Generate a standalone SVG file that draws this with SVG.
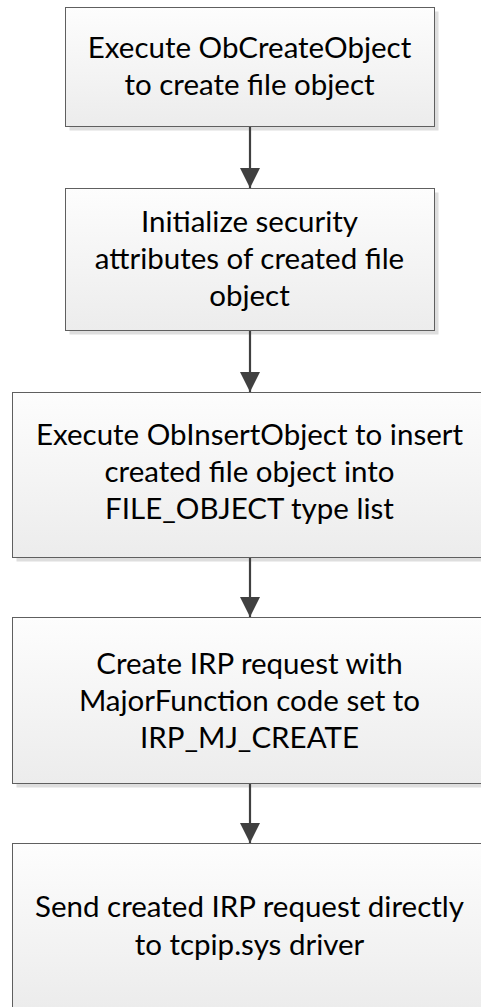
<svg xmlns="http://www.w3.org/2000/svg" width="481" height="1007" viewBox="0 0 481 1007">
  <defs>
    <linearGradient id="boxFill" x1="0" y1="0" x2="0" y2="1">
      <stop offset="0" stop-color="#fdfdfd"/>
      <stop offset="1" stop-color="#ececec"/>
    </linearGradient>
    <marker id="arrow" viewBox="0 0 20 20" refX="20" refY="10" markerWidth="20" markerHeight="20" markerUnits="userSpaceOnUse" orient="auto">
      <path d="M0,0 L20,10 L0,20 Z" fill="#404040"/>
    </marker>
  </defs>
  <style>
    .box { fill: url(#boxFill); stroke: #5f5f5f; stroke-width: 1; }
    .shadow { fill: #dedede; }
    .label { font-family: Lato, "Open Sans", sans-serif; font-size: 29.5px; fill: #000; text-anchor: middle; }
    .conn { stroke: #404040; stroke-width: 2.2; fill: none; marker-end: url(#arrow); }
  </style>
  <rect width="481" height="1007" fill="#ffffff"/>

  <g id="node1">
    <rect class="shadow" x="69.5" y="11.5" width="369" height="119"/>
    <rect class="box" x="65.5" y="7.5" width="369" height="119"/>
    <text class="label" x="249.5" y="58">Execute ObCreateObject</text>
    <text class="label" x="249.5" y="95">to create file object</text>
  </g>

  <g id="node2">
    <rect class="shadow" x="69.5" y="192.5" width="369" height="142"/>
    <rect class="box" x="65.5" y="188.5" width="369" height="142"/>
    <text class="label" x="249.5" y="232">Initialize security</text>
    <text class="label" x="249.5" y="269">attributes of created file</text>
    <text class="label" x="249.5" y="306">object</text>
  </g>

  <g id="node3">
    <rect class="shadow" x="16.5" y="396.5" width="475" height="165"/>
    <rect class="box" x="12.5" y="392.5" width="475" height="165"/>
    <text class="label" x="249.5" y="445">Execute ObInsertObject to insert</text>
    <text class="label" x="249.5" y="482">created file object into</text>
    <text class="label" x="249.5" y="519">FILE_OBJECT type list</text>
  </g>

  <g id="node4">
    <rect class="shadow" x="16.5" y="621.5" width="475" height="166"/>
    <rect class="box" x="12.5" y="617.5" width="475" height="166"/>
    <text class="label" x="249.5" y="674">Create IRP request with</text>
    <text class="label" x="249.5" y="711">MajorFunction code set to</text>
    <text class="label" x="249.5" y="748">IRP_MJ_CREATE</text>
  </g>

  <g id="node5">
    <rect class="shadow" x="16.5" y="847.5" width="475" height="165"/>
    <rect class="box" x="12.5" y="843.5" width="475" height="165"/>
    <text class="label" x="249.5" y="917">Send created IRP request directly</text>
    <text class="label" x="249.5" y="955">to tcpip.sys driver</text>
  </g>

  <g id="connectors">
    <line class="conn" x1="250" y1="127" x2="250" y2="188"/>
    <line class="conn" x1="250" y1="331" x2="250" y2="392"/>
    <line class="conn" x1="250" y1="558" x2="250" y2="617"/>
    <line class="conn" x1="250" y1="784" x2="250" y2="843"/>
  </g>
</svg>
